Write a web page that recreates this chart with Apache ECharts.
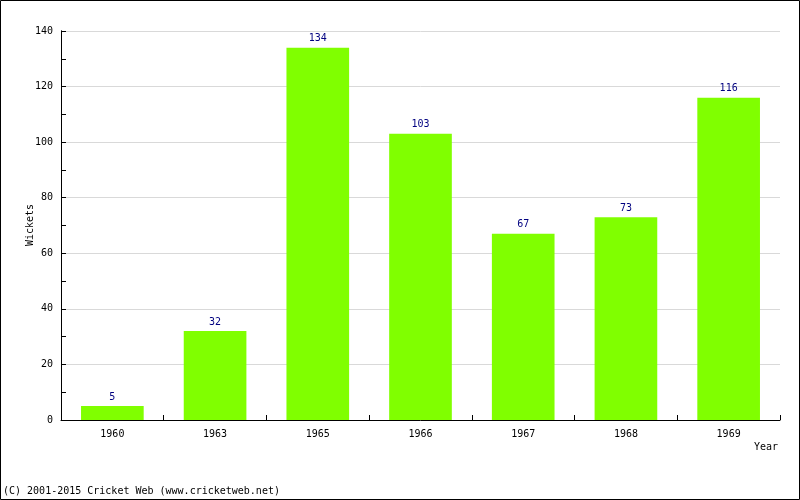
<!DOCTYPE html>
<html><head><meta charset="utf-8">
<script src="https://cdn.jsdelivr.net/npm/echarts@6/dist/echarts.min.js"></script>
<style>html,body{margin:0;padding:0;background:#fff}#c{width:800px;height:500px}</style>
</head><body><div id="c"></div>
<script>
var years = ['1960','1963','1965','1966','1967','1968','1969'];
var wickets = [5,32,134,103,67,73,116];
var yTicks = [0,20,40,60,80,100,120,140];

var font = 'DejaVu Sans Mono';
var chart = echarts.init(document.getElementById('c'), null, {renderer:'canvas'});
chart.setOption({
  animation:false,
  backgroundColor:'#fff',
  grid:{left:61,right:20,top:31,bottom:80,containLabel:false},
  graphic:[
    {type:'rect',shape:{x:0.5,y:0.5,width:799,height:499},style:{fill:'none',stroke:'#000',lineWidth:1},z:100},
    {type:'text',left:3,top:486,style:{text:'(C) 2001-2015 Cricket Web (www.cricketweb.net)',font:'10px "DejaVu Sans Mono"',fill:'#000'}},
    {type:'text',x:30,y:225,rotation:Math.PI/2,style:{text:'Wickets',font:'10px "DejaVu Sans Mono"',fill:'#000',align:'center',verticalAlign:'middle'}}
  ],
  xAxis:{
    type:'category',data:years,
    name:'Year',nameLocation:'end',nameGap:0,
    nameTextStyle:{fontFamily:font,fontSize:10,color:'#000',align:'right',verticalAlign:'top',padding:[22,2,0,0]},
    axisLine:{lineStyle:{color:'#000',width:1}},
    axisTick:{show:true,inside:true,length:5,alignWithLabel:false,lineStyle:{color:'#000'}},
    axisLabel:{fontFamily:font,fontSize:10,color:'#000',margin:9}
  },
  yAxis:[{
    type:'value',min:0,max:140,interval:20,position:'left',
    axisLine:{show:true,lineStyle:{color:'#000',width:1}},
    axisTick:{show:true,inside:true,length:5,lineStyle:{color:'#000'}},
    splitLine:{show:true,lineStyle:{color:'#d9d9d9',width:1}},
    axisLabel:{fontFamily:font,fontSize:10,color:'#000',margin:8,
      formatter:function(v){return yTicks.indexOf(v)>=0?String(v):'';}}
  },{
    type:'value',min:0,max:140,interval:10,position:'left',offset:0,
    axisLine:{show:true,lineStyle:{color:'#000',width:1}},
    axisTick:{show:true,inside:true,length:5,lineStyle:{color:'#000',width:1}},
    splitLine:{show:false},
    axisLabel:{show:false}
  }],
  series:[{
    type:'bar',data:wickets,barCategoryGap:'39%',yAxisIndex:0,
    itemStyle:{color:'#80ff00'},
    label:{show:true,position:'top',distance:4,fontFamily:font,fontSize:10,color:'#000080'}
  }]
});
</script></body></html>
